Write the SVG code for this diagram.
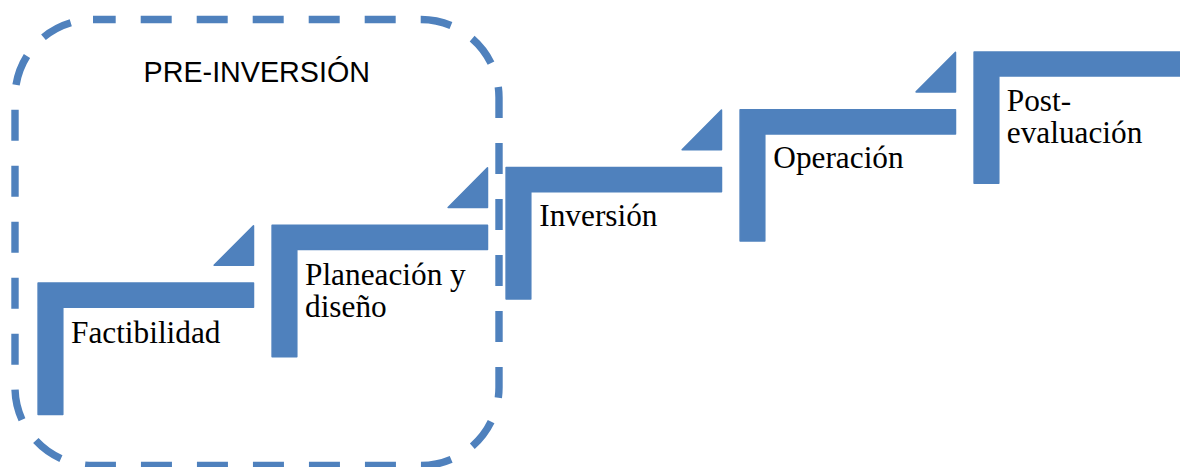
<svg xmlns="http://www.w3.org/2000/svg" width="1180" height="467" viewBox="0 0 1180 467">
  <style>
    .shape { fill: #4F81BD; stroke: #4F81BD; stroke-width: 1.5; stroke-linejoin: round; }
    .label { font-family: "Liberation Serif", "Times New Roman", serif; font-size: 31.3px; fill: #000; }
    .group-title { font-family: "Liberation Sans", Arial, sans-serif; font-size: 28.7px; fill: #000; text-anchor: middle; }
    .frame { fill: none; stroke: #4F81BD; stroke-width: 7.4; stroke-dasharray: 31 25; stroke-dashoffset: 8.3; }
  </style>
  <defs>
    <!-- L-shaped step, origin at its outer top-left corner -->
    <path id="step" d="M0.8,0.8 H216.2 V25 H25.5 V132.2 H0.8 Z"/>
    <!-- small accent triangle above the right end of a step -->
    <path id="accent" d="M176.8,-17 L216.2,-56.6 V-17 Z"/>
  </defs>

  <!-- dashed grouping frame -->
  <g id="pre-inversion">
    <rect class="frame" x="15" y="19.5" width="484" height="446" rx="78" ry="78"/>
    <text class="group-title" x="256.8" y="82.3">PRE-INVERSIÓN</text>
  </g>

  <g id="connectors"/>

  <g id="step-factibilidad" transform="translate(37.3,282.3)">
    <use href="#step" class="shape"/>
    <use href="#accent" class="shape"/>
    <text class="label" x="33.7" y="61">Factibilidad</text>
  </g>

  <g id="step-planeacion" transform="translate(271.3,224.5)">
    <use href="#step" class="shape"/>
    <use href="#accent" class="shape"/>
    <text class="label" x="33.7" y="60"><tspan x="33.7">Planeación y</tspan><tspan x="33.7" dy="32">diseño</tspan></text>
  </g>

  <g id="step-inversion" transform="translate(505.3,166.7)">
    <use href="#step" class="shape"/>
    <use href="#accent" class="shape"/>
    <text class="label" x="34" y="59.5">Inversión</text>
  </g>

  <g id="step-operacion" transform="translate(739.3,108.9)">
    <use href="#step" class="shape"/>
    <use href="#accent" class="shape"/>
    <text class="label" x="34" y="59.5">Operación</text>
  </g>

  <g id="step-post-evaluacion" transform="translate(973.3,51.1)">
    <use href="#step" class="shape"/>
    <text class="label" x="33.5" y="60"><tspan x="33.5">Post-</tspan><tspan x="33.5" dy="31.7">evaluación</tspan></text>
  </g>
</svg>
